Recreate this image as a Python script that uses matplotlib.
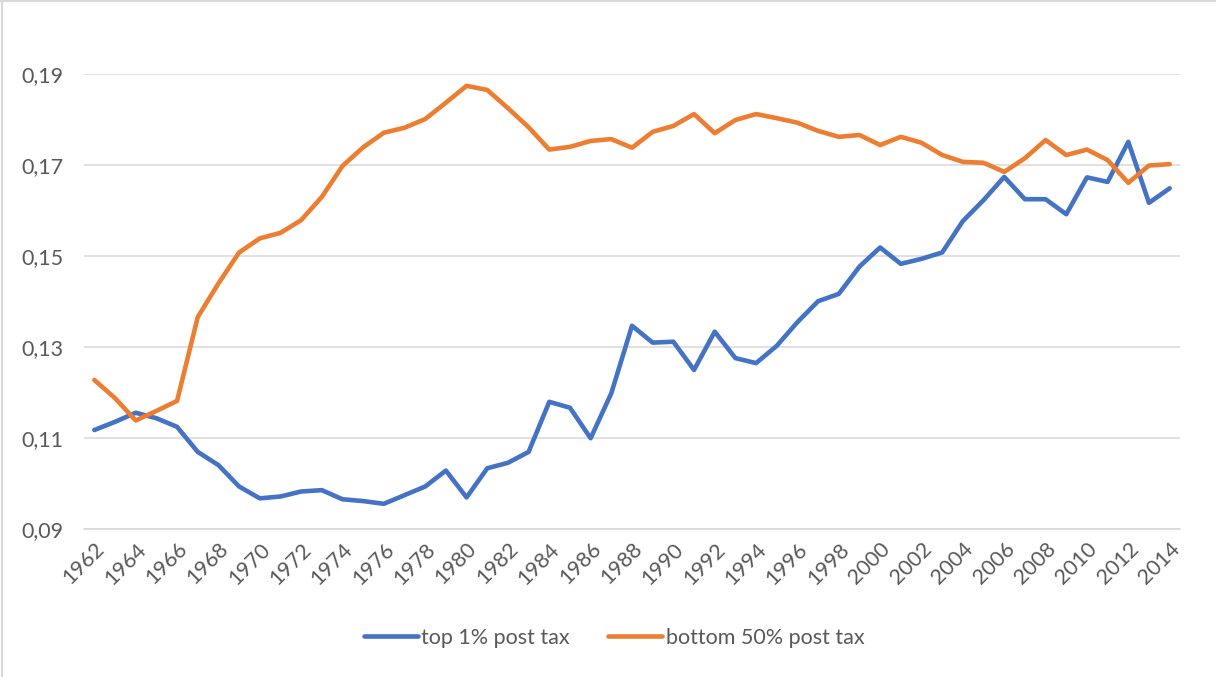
import numpy as np
import matplotlib
matplotlib.use("Agg")
import matplotlib.pyplot as plt
from matplotlib.lines import Line2D

plt.rcParams['font.family'] = ['Lato', 'DejaVu Sans']

years = list(range(1962, 2015))

top1_post_tax = [
    0.1118, 0.1136, 0.1156, 0.1144, 0.1125, 0.1070, 0.1041, 0.0994, 0.0968, 0.0972,
    0.0983, 0.0986, 0.0966, 0.0962, 0.0956, 0.0975, 0.0994, 0.1029, 0.0970, 0.1034,
    0.1046, 0.1070, 0.1180, 0.1167, 0.1100, 0.1199, 0.1347, 0.1310, 0.1312, 0.1250,
    0.1334, 0.1276, 0.1265, 0.1303, 0.1355, 0.1401, 0.1417, 0.1477, 0.1519, 0.1483,
    0.1494, 0.1508, 0.1577, 0.1623, 0.1674, 0.1625, 0.1625, 0.1592, 0.1673, 0.1663,
    0.1751, 0.1617, 0.1649,
]

bottom50_post_tax = [
    0.1228, 0.1188, 0.1139, 0.1160, 0.1182, 0.1366, 0.1440, 0.1508, 0.1539, 0.1551,
    0.1579, 0.1630, 0.1698, 0.1739, 0.1771, 0.1782, 0.1801, 0.1837, 0.1874, 0.1865,
    0.1825, 0.1783, 0.1734, 0.1740, 0.1753, 0.1757, 0.1738, 0.1773, 0.1786, 0.1812,
    0.1770, 0.1799, 0.1812, 0.1803, 0.1793, 0.1775, 0.1762, 0.1766, 0.1744, 0.1762,
    0.1749, 0.1722, 0.1707, 0.1705, 0.1685, 0.1715, 0.1755, 0.1722, 0.1734, 0.1711,
    0.1661, 0.1699, 0.1702,
]

y_ticks = [0.09, 0.11, 0.13, 0.15, 0.17, 0.19]
x_ticks = years[::2]

text_color = '#595959'
grid_color = '#D9D9D9'
fs = 15.5

fig = plt.figure(figsize=(12.16, 6.77), dpi=100)
ax = fig.add_axes([84 / 1216, 1 - 529.3 / 677, (1180 - 84) / 1216, (529.3 - 74) / 677])

ax.plot(years, top1_post_tax, color='#4472C4', linewidth=3.3, label='top 1% post tax',
        solid_joinstyle='round', solid_capstyle='round')
ax.plot(years, bottom50_post_tax, color='#ED7D31', linewidth=3.3, label='bottom 50% post tax',
        solid_joinstyle='round', solid_capstyle='round')

ax.set_xlim(1961.5, 2014.5)
ax.set_ylim(0.09, 0.19)
ax.set_yticks(y_ticks)
ax.set_yticklabels([f"{v:.2f}".replace('.', ',') for v in y_ticks])
ax.set_xticks(x_ticks)
ax.set_xticklabels([str(y) for y in x_ticks], rotation=45, ha='right', rotation_mode='anchor')

ax.tick_params(axis='y', length=0, pad=15, labelsize=fs, labelcolor=text_color)
ax.tick_params(axis='x', length=0, pad=7, labelsize=fs, labelcolor=text_color)

ax.yaxis.grid(True, color=grid_color, linewidth=1.1)
ax.set_axisbelow(True)
for s in ['top', 'right', 'left']:
    ax.spines[s].set_visible(False)
ax.spines['bottom'].set_color(grid_color)
ax.spines['bottom'].set_linewidth(1.1)

fig.legend(loc='center', bbox_to_anchor=(0.505, 1 - 638 / 677), ncol=2, frameon=False,
           fontsize=fs, labelcolor=text_color, handlelength=2.5, handletextpad=0.15,
           columnspacing=1.8)

# chart area border (only left and top visible in the crop)
fig.add_artist(Line2D([2 / 1216, 2 / 1216], [0, 1], color=grid_color, linewidth=1.5))
fig.add_artist(Line2D([0, 1], [1 - 1 / 677, 1 - 1 / 677], color=grid_color, linewidth=1.5))

fig.savefig('out.png', dpi=100)
